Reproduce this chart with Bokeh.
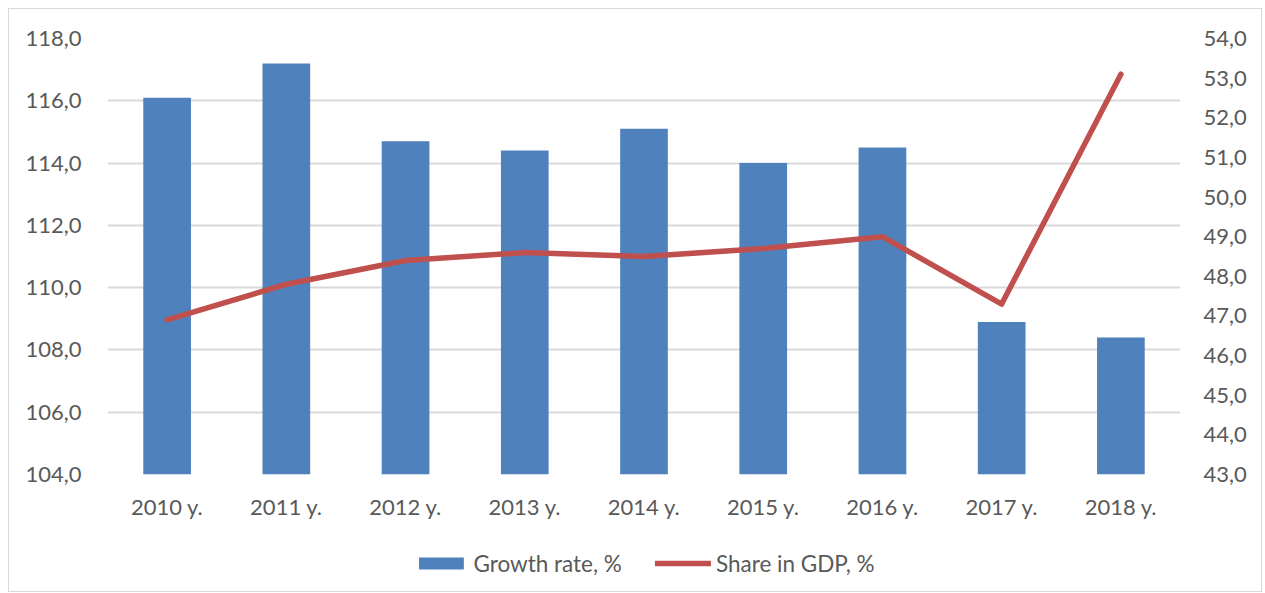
from bokeh.plotting import figure
from bokeh.layouts import column
from bokeh.models import Range1d, LinearAxis, FixedTicker, CustomJSTickFormatter, Legend, LegendItem, ColumnDataSource, FactorRange
from bokeh.embed import file_html
from bokeh.resources import INLINE

years = ["2010 y.", "2011 y.", "2012 y.", "2013 y.", "2014 y.", "2015 y.", "2016 y.", "2017 y.", "2018 y."]
growth_rate = [116.1, 117.2, 114.7, 114.4, 115.1, 114.0, 114.5, 108.9, 108.4]
share_gdp = [46.9, 47.8, 48.4, 48.6, 48.5, 48.7, 49.0, 47.3, 53.1]
left_ticks = [104, 106, 108, 110, 112, 114, 116, 118]
right_ticks = [43, 44, 45, 46, 47, 48, 49, 50, 51, 52, 53, 54]

FONT = "Lato"
TXT = "#595959"
BLUE = "#4F81BD"
RED = "#C0504D"

src = ColumnDataSource(dict(x=years, g=growth_rate, s=share_gdp))

p = figure(x_range=FactorRange(*years), y_range=Range1d(104, 118),
           width=1252, height=525, output_backend="svg", toolbar_location=None,
           min_border_left=98, min_border_right=81, min_border_top=29, min_border_bottom=60)
p.outline_line_color = None
p.background_fill_color = "white"
p.border_fill_color = "white"
p.extra_y_ranges = {"share": Range1d(43, 54)}

bars = p.vbar(x="x", top="g", bottom=104, width=0.4, source=src, color=BLUE, line_color=None)
line = p.line(x="x", y="s", source=src, y_range_name="share", line_color=RED, line_width=5.5, line_join="round", line_cap="round")

fmt = CustomJSTickFormatter(code="return tick.toFixed(1).replace('.', ',');")

ya = p.yaxis[0]
ya.ticker = FixedTicker(ticks=left_ticks)
ya.formatter = fmt

ra = LinearAxis(y_range_name="share", ticker=FixedTicker(ticks=right_ticks), formatter=fmt)
p.add_layout(ra, "right")

xa = p.xaxis[0]
for ax in [ya, ra, xa]:
    ax.axis_line_color = None
    ax.major_tick_line_color = None
    ax.minor_tick_line_color = None
    ax.major_label_text_font = FONT
    ax.major_label_text_font_size = "22px"
    ax.major_label_text_color = TXT
ya.major_label_standoff = 20
ra.major_label_standoff = 17
xa.major_label_standoff = 12

p.xgrid.grid_line_color = None
p.ygrid.ticker = FixedTicker(ticks=left_ticks)
p.ygrid.grid_line_color = "#d9d9d9"
p.ygrid.grid_line_width = 2

# legend strip below the chart; its proxy renderers are hidden, only the legend shows
p2 = figure(x_range=FactorRange(*years), y_range=Range1d(0, 1),
            width=1252, height=57, output_backend="svg", toolbar_location=None,
            x_axis_type=None, y_axis_type=None,
            min_border_left=0, min_border_right=0, min_border_top=0, min_border_bottom=0)
p2.outline_line_color = None
p2.grid.grid_line_color = None
p2.border_fill_color = "white"
p2.background_fill_color = "white"
lg_bar = p2.vbar(x="x", top="g", bottom=104, width=0.4, source=src, color=BLUE, line_color=None, visible=False)
lg_line = p2.line(x="x", y="s", source=src, line_color=RED, line_width=5.5, line_cap="round", visible=False)

legend = Legend(items=[LegendItem(label="Growth rate, %", renderers=[lg_bar]),
                       LegendItem(label="Share in GDP, %", renderers=[lg_line])],
                orientation="horizontal", location="center",
                label_text_font=FONT, label_text_font_size="22.5px", label_text_color=TXT,
                glyph_width=56, glyph_height=15, label_standoff=5, spacing=33,
                padding=0, margin=0, border_line_color=None, background_fill_alpha=0,
                inactive_fill_alpha=0)
p2.add_layout(legend, "center")

layout = column(p, p2, spacing=0,
                styles={"border": "1px solid #d9d9d9", "margin-left": "8px", "margin-top": "8px"})

open("out.html", "w").write(file_html(layout, INLINE))
